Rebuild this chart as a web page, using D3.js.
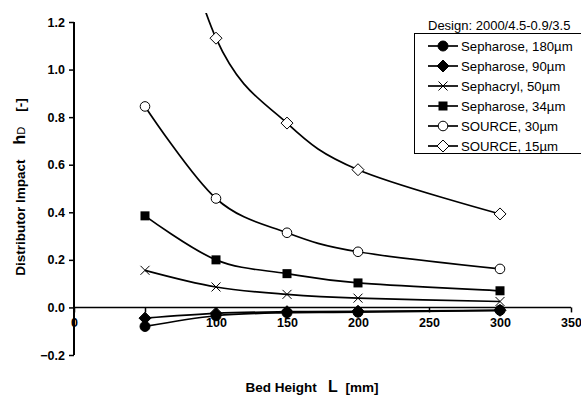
<!DOCTYPE html>
<html><head><meta charset="utf-8">
<script src="https://cdn.jsdelivr.net/npm/d3@7"></script>
<style>body{margin:0;background:#fff}svg{display:block;font-family:Arial,"Liberation Sans",sans-serif}</style>
</head><body><svg id="c" width="581" height="395"></svg>
<script>
const bedHeights = [50, 100, 150, 200, 300];
const seriesNames = ["Sepharose, 180µm","Sepharose, 90µm","Sephacryl,  50µm","Sepharose, 34µm","SOURCE, 30µm","SOURCE, 15µm"];
const seriesMarkers = ["circleFilled","diamondFilled","cross","squareFilled","circleOpen","diamondOpen"];
const sepharose180 = [-0.08, -0.035, -0.022, -0.02, -0.012];
const sepharose90 = [-0.045, -0.025, -0.018, -0.016, -0.012];
const sephacryl50 = [0.156, 0.086, 0.055, 0.039, 0.025];
const sepharose34 = [0.385, 0.2, 0.142, 0.103, 0.07];
const source30 = [0.845, 0.458, 0.314, 0.234, 0.162];
const source15 = [2.1, 1.132, 0.775, 0.579, 0.393];
const seriesValues = [sepharose180, sepharose90, sephacryl50, sepharose34, source30, source15];
const xTicks = [0, 50, 100, 150, 200, 250, 300, 350];
const xTickLabels = ["0","","100","150","200","250","300","350"];
const yTicks = [-0.2, 0, 0.2, 0.4, 0.6, 0.8, 1.0, 1.2];
const designLabel = "Design: 2000/4.5-0.9/3.5";

const svg = d3.select("#c");
const x = d3.scaleLinear().domain([0, 350]).range([74, 571]);
const y = d3.scaleLinear().domain([-0.2, 1.2]).range([355, 22]);

svg.append("defs").append("clipPath").attr("id","plotclip").append("rect")
  .attr("x", x(0)).attr("y", y(1.2) - 9).attr("width", x(350) - x(0) + 10).attr("height", y(-0.2) - y(1.2) + 9);

const yAxis = svg.append("g").attr("transform", `translate(${x(0)},0)`)
  .call(d3.axisLeft(y).tickValues(yTicks).tickFormat(d3.format(".1f")).tickSize(5).tickPadding(4));
yAxis.select(".domain").attr("stroke","#000").attr("stroke-width",2).attr("d", `M0,${y(1.2)}V${y(-0.2)}`);
yAxis.selectAll(".tick line").attr("stroke","#000").attr("stroke-width",1.5);
yAxis.selectAll(".tick text").attr("font-size",12.5).attr("font-weight","bold").attr("fill","#000")
  .attr("font-family","Arial, 'Liberation Sans', sans-serif");

const xAxis = svg.append("g").attr("transform", `translate(0,${y(0)})`)
  .call(d3.axisBottom(x).tickValues(xTicks).tickFormat((d,i)=>xTickLabels[i]).tickSize(5).tickPadding(6));
xAxis.select(".domain").attr("stroke","#000").attr("stroke-width",1.5).attr("d", `M${x(0)},0H${x(350)}`);
xAxis.selectAll(".tick line").attr("stroke","#000").attr("stroke-width",1.5);
xAxis.selectAll(".tick text").attr("font-size",12.5).attr("font-weight","bold").attr("fill","#000")
  .attr("font-family","Arial, 'Liberation Sans', sans-serif");

function drawMarker(g, type, cx, cy) {
  const m = g.append("g").attr("transform", `translate(${cx},${cy})`);
  switch (type) {
    case "circleFilled": m.append("circle").attr("r",5).attr("fill","#000").attr("stroke","#000"); break;
    case "circleOpen": m.append("circle").attr("r",4.8).attr("fill","#fff").attr("stroke","#000").attr("stroke-width",1); break;
    case "diamondFilled": m.append("path").attr("d","M0,-6L6,0L0,6L-6,0Z").attr("fill","#000").attr("stroke","#000"); break;
    case "diamondOpen": m.append("path").attr("d","M0,-6L6,0L0,6L-6,0Z").attr("fill","#fff").attr("stroke","#000").attr("stroke-width",1); break;
    case "squareFilled": m.append("rect").attr("x",-4.5).attr("y",-4.5).attr("width",9).attr("height",9).attr("fill","#000"); break;
    case "cross": m.append("path").attr("d","M-4.5,-4.5L4.5,4.5M-4.5,4.5L4.5,-4.5").attr("stroke","#000").attr("stroke-width",1).attr("fill","none"); break;
  }
}

const plot = svg.append("g").attr("clip-path","url(#plotclip)");
const line = d3.line().x(d=>x(d[0])).y(d=>y(d[1])).curve(d3.curveCardinal.tension(0));
seriesValues.forEach((vals, i) => {
  const pts = bedHeights.map((h, j) => [h, vals[j]]);
  plot.append("path").datum(pts).attr("d", line).attr("fill","none").attr("stroke","#000").attr("stroke-width",1.7);
});
seriesValues.forEach((vals, i) => {
  bedHeights.forEach((h, j) => drawMarker(plot, seriesMarkers[i], x(h), y(vals[j])));
});

svg.append("text").attr("x", 428).attr("y", 30).attr("font-size",13).attr("fill","#000").text(designLabel);
const lg = svg.append("g");
lg.append("rect").attr("x",414.5).attr("y",33.5).attr("width",175).attr("height",120).attr("fill","#fff").attr("stroke","#000").attr("stroke-width",1);
seriesNames.forEach((name, i) => {
  const cy = 46 + i * 20;
  lg.append("line").attr("x1",428).attr("x2",458).attr("y1",cy).attr("y2",cy).attr("stroke","#000").attr("stroke-width",1.7);
  drawMarker(lg, seriesMarkers[i], 443, cy);
  lg.append("text").attr("x",461).attr("y",cy + 4.5).attr("font-size",13.2).attr("fill","#000").text(name);
});

const yt = svg.append("text").attr("transform","translate(25,187) rotate(-90)").attr("text-anchor","middle")
  .attr("font-weight","bold").attr("font-size",13.5).attr("fill","#000");
yt.append("tspan").text("Distributor Impact\u00a0\u00a0\u00a0\u00a0");
yt.append("tspan").attr("font-size",16).text("h");
yt.append("tspan").attr("font-weight","normal").attr("font-size",11).text("D");
yt.append("tspan").text("\u00a0\u00a0\u00a0\u00a0[-]");

const xt = svg.append("text").attr("x",312).attr("y",392).attr("text-anchor","middle")
  .attr("font-weight","bold").attr("font-size",13.5).attr("fill","#000");
xt.append("tspan").text("Bed Height\u00a0\u00a0\u00a0");
xt.append("tspan").attr("font-size",16).text("L");
xt.append("tspan").text("\u00a0\u00a0[mm]");
</script></body></html>
